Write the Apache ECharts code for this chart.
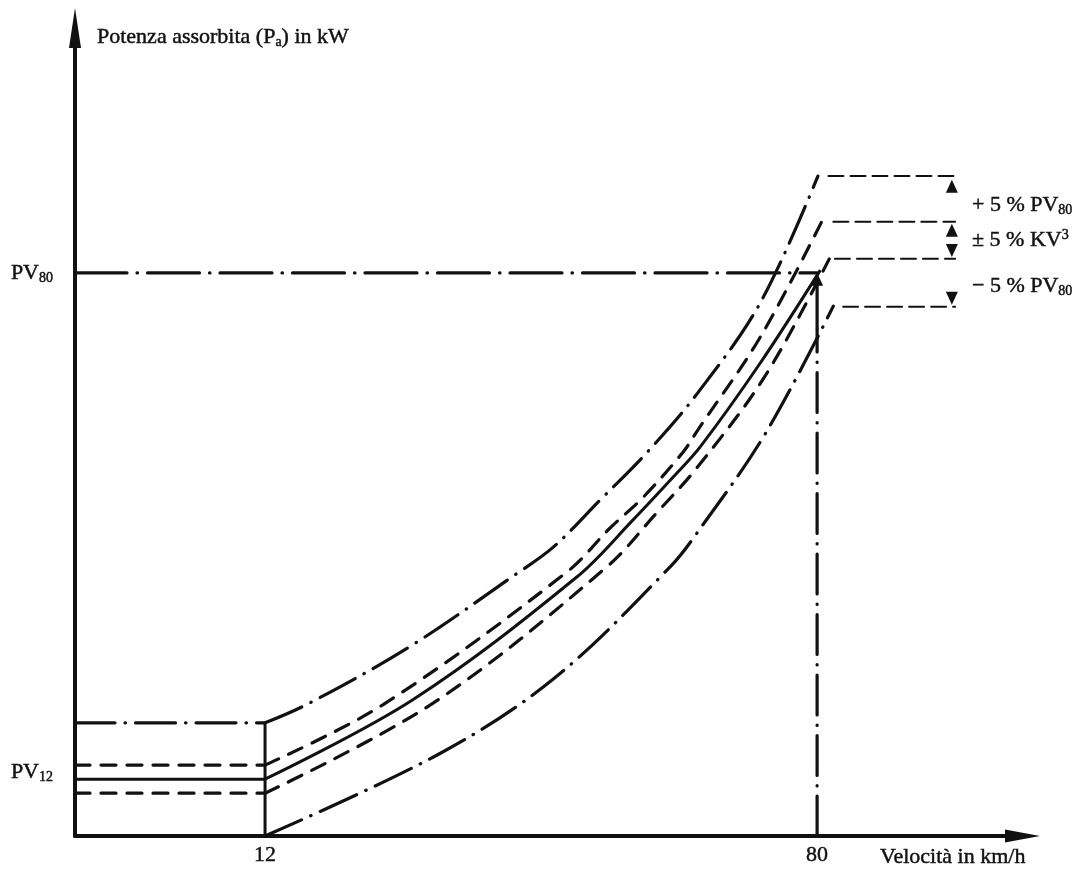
<!DOCTYPE html>
<html>
<head>
<meta charset="utf-8">
<title>Potenza assorbita in funzione della velocità</title>
<script src="https://cdn.jsdelivr.net/npm/echarts@6/dist/echarts.min.js"></script>
<style>
  html, body { margin: 0; padding: 0; background: #ffffff; }
  #chart { width: 1080px; height: 870px; }
</style>
</head>
<body>
<div id="chart"></div>
<script>
// ---- axis ranges (speed in km/h, power in relative units with PV80 = 100) ----
const X_MIN = -11.41;
const X_MAX = 105.3;
const Y_MIN = 0;
const Y_MAX = 143.5;

// ---- tick positions and labels ----
const xTickValues = [12, 80];
const yTickValues = [10.1, 100];            // PV12, PV80
const yTickLabels = ['{p|PV}{s|12}\n{e| }', '{p|PV}{s|80}'];

// ---- reference levels ----
const V12 = 12;
const V80 = 80;
const PV80 = 100;
const leftLevels = [20.1, 12.6, 10.1, 7.6]; // limit, +tol, nominal (PV12), -tol at 12 km/h

// ---- power curves between 12 and 80 km/h ----
const upperLimitCurve = [[12, 20.1], [17.2, 23.4], [29.9, 33.7], [43.0, 46.6], [47.5, 51.3],
  [53.3, 59.7], [59.1, 68.2], [65.3, 78.7], [73.0, 94.7], [80.1, 117.2]];
const upperTolCurve = [[12, 12.6], [26.5, 23.3], [49.2, 46.9], [54.5, 54.7], [58.6, 60.2],
  [63.5, 68.2], [65.3, 72.1], [73.0, 88.6], [80.6, 109.2]];
const nominalCurve = [[12, 10.1], [30.2, 24.2], [50.4, 46.0], [57.3, 56.1], [62.3, 63.8],
  [65.6, 69.1], [73.0, 84.0], [80.4, 100.5]];
const lowerTolCurve = [[12, 7.6], [32.7, 23.6], [54.1, 47.8], [60.3, 57.5], [65.2, 65.4],
  [73.6, 81.7], [81.5, 102.5]];
const lowerLimitCurve = [[12, 0], [33.6, 14.7], [47.7, 28.1], [61.9, 47.8], [65.2, 53.8],
  [73.6, 71.4], [82.0, 94.1]];

// ---- tolerance band marks on the right ----
const bandLevels = [117.2, 109.1, 102.5, 94.0];
const bandStarts = [81.4, 82.0, 82.2, 83.2];
const bandEnd = 97.0;
const markerX = 96.6;
const upMarkers = [115.4, 107.6];
const downMarkers = [104.0, 95.5];

// ---- styles ----
const INK = '#111111';
const SERIF = '"Liberation Serif", "Times New Roman", serif';
const DASH_DOT = [40, 10, 0.5, 10];
const DASH_DOT_LONG = [52, 10, 0.5, 10];
const DASH = [15, 11];
const THIN_DASH = [15, 7];

function path(data, type, width, smooth) {
  const solid = type === 'solid';
  return {
    type: 'line',
    data: data,
    symbol: 'none',
    smooth: smooth || false,
    silent: true,
    animation: false,
    z: 3,
    lineStyle: { color: INK, width: width, type: type, cap: solid ? 'butt' : 'round' }
  };
}

function markers(data, rotate) {
  return {
    type: 'scatter', silent: true, animation: false, z: 4,
    data: data,
    symbol: 'triangle', symbolSize: [12, 13], symbolRotate: rotate,
    itemStyle: { color: INK, opacity: 1 }
  };
}

const series = [
  // curves
  path(upperLimitCurve, DASH_DOT, 3.2, 0.35),
  path(upperTolCurve, DASH, 3.2, 0.35),
  path(nominalCurve, 'solid', 3, 0.35),
  path(lowerTolCurve, DASH, 3.2, 0.35),
  path(lowerLimitCurve, DASH_DOT, 3.2, 0.35),

  // levels below 12 km/h
  path([[X_MIN, leftLevels[0]], [V12, leftLevels[0]]], DASH_DOT, 3.2),
  path([[X_MIN, leftLevels[1]], [V12, leftLevels[1]]], DASH, 3.2),
  path([[X_MIN, leftLevels[2]], [V12, leftLevels[2]]], 'solid', 3),
  path([[X_MIN, leftLevels[3]], [V12, leftLevels[3]]], DASH, 3.2),
  path([[V12, 0], [V12, leftLevels[0]]], 'solid', 3),

  // PV80 level and 80 km/h ordinate with its arrow
  path([[X_MIN, PV80], [V80, PV80]], DASH_DOT_LONG, 3.2),
  path([[V80, 0], [V80, 90]], DASH_DOT, 3.2),
  path([[V80, 90], [V80, PV80 - 1]], 'solid', 3.2),
  markers([[V80, 98.9]], 0),

  // tolerance band reference lines and arrows
  ...bandLevels.map((lv, i) => path([[bandStarts[i], lv], [bandEnd, lv]], THIN_DASH, 2)),
  markers(upMarkers.map(v => [markerX, v]), 0),
  markers(downMarkers.map(v => [markerX, v]), 180)
];

// rich styles for axis labels (label option names)
const ink = { color: INK, textBorderColor: INK, textBorderWidth: 0.45 };
const richMain = Object.assign({ fontFamily: SERIF, fontSize: 22, lineHeight: 24 }, ink);
const richSub = Object.assign({ fontFamily: SERIF, fontSize: 14, lineHeight: 14, verticalAlign: 'bottom' }, ink);
const richGap = { fontSize: 1, lineHeight: 14 };

// rich styles for free text elements (graphic style names)
const pen = { fill: INK, stroke: INK, lineWidth: 0.45 };
const gMain = Object.assign({ fontFamily: SERIF, fontSize: 22, lineHeight: 24 }, pen);
const gSub = Object.assign({ fontFamily: SERIF, fontSize: 14, lineHeight: 14, verticalAlign: 'bottom' }, pen);
const gSup = Object.assign({ fontFamily: SERIF, fontSize: 14, lineHeight: 14, verticalAlign: 'top' }, pen);

function note(x, y, text) {
  return {
    type: 'text', x: x, y: y, silent: true,
    style: { text: text, verticalAlign: 'middle', align: 'left', rich: { t: gMain, s: gSub, u: gSup } }
  };
}

const option = {
  backgroundColor: '#ffffff',
  animation: false,
  grid: { left: 75, right: 57.5, top: 28, bottom: 34, containLabel: false },
  xAxis: {
    type: 'value',
    min: X_MIN,
    max: X_MAX,
    splitLine: { show: false },
    axisTick: { show: false },
    axisLine: {
      show: true, onZero: false,
      symbol: ['none', 'triangle'], symbolSize: [13, 35],
      lineStyle: { color: INK, width: 4 }
    },
    axisLabel: {
      customValues: xTickValues,
      color: INK, fontFamily: SERIF, fontSize: 22, margin: 8,
      textBorderColor: INK, textBorderWidth: 0.45
    }
  },
  yAxis: {
    type: 'value',
    min: Y_MIN,
    max: Y_MAX,
    splitLine: { show: false },
    axisTick: { show: false },
    axisLine: {
      show: true, onZero: false,
      symbol: ['none', 'triangle'], symbolSize: [12, 40],
      lineStyle: { color: INK, width: 4 }
    },
    axisLabel: {
      customValues: yTickValues,
      margin: 22,
      formatter: v => yTickLabels[yTickValues.indexOf(v)],
      rich: { p: richMain, s: richSub, e: richGap }
    }
  },
  graphic: [
    note(97, 37, '{t|Potenza assorbita (P}{s|a}{t|) in kW}'),
    note(880, 857, '{t|Velocità in km/h}'),
    note(972, 205, '{t|+ 5 % PV}{s|80}'),
    note(972, 240, '{t|± 5 % KV}{u|3}'),
    note(972, 286, '{t|− 5 % PV}{s|80}')
  ],
  series: series
};

const chart = echarts.init(document.getElementById('chart'), null, { renderer: 'canvas' });
chart.setOption(option);
</script>
</body>
</html>
